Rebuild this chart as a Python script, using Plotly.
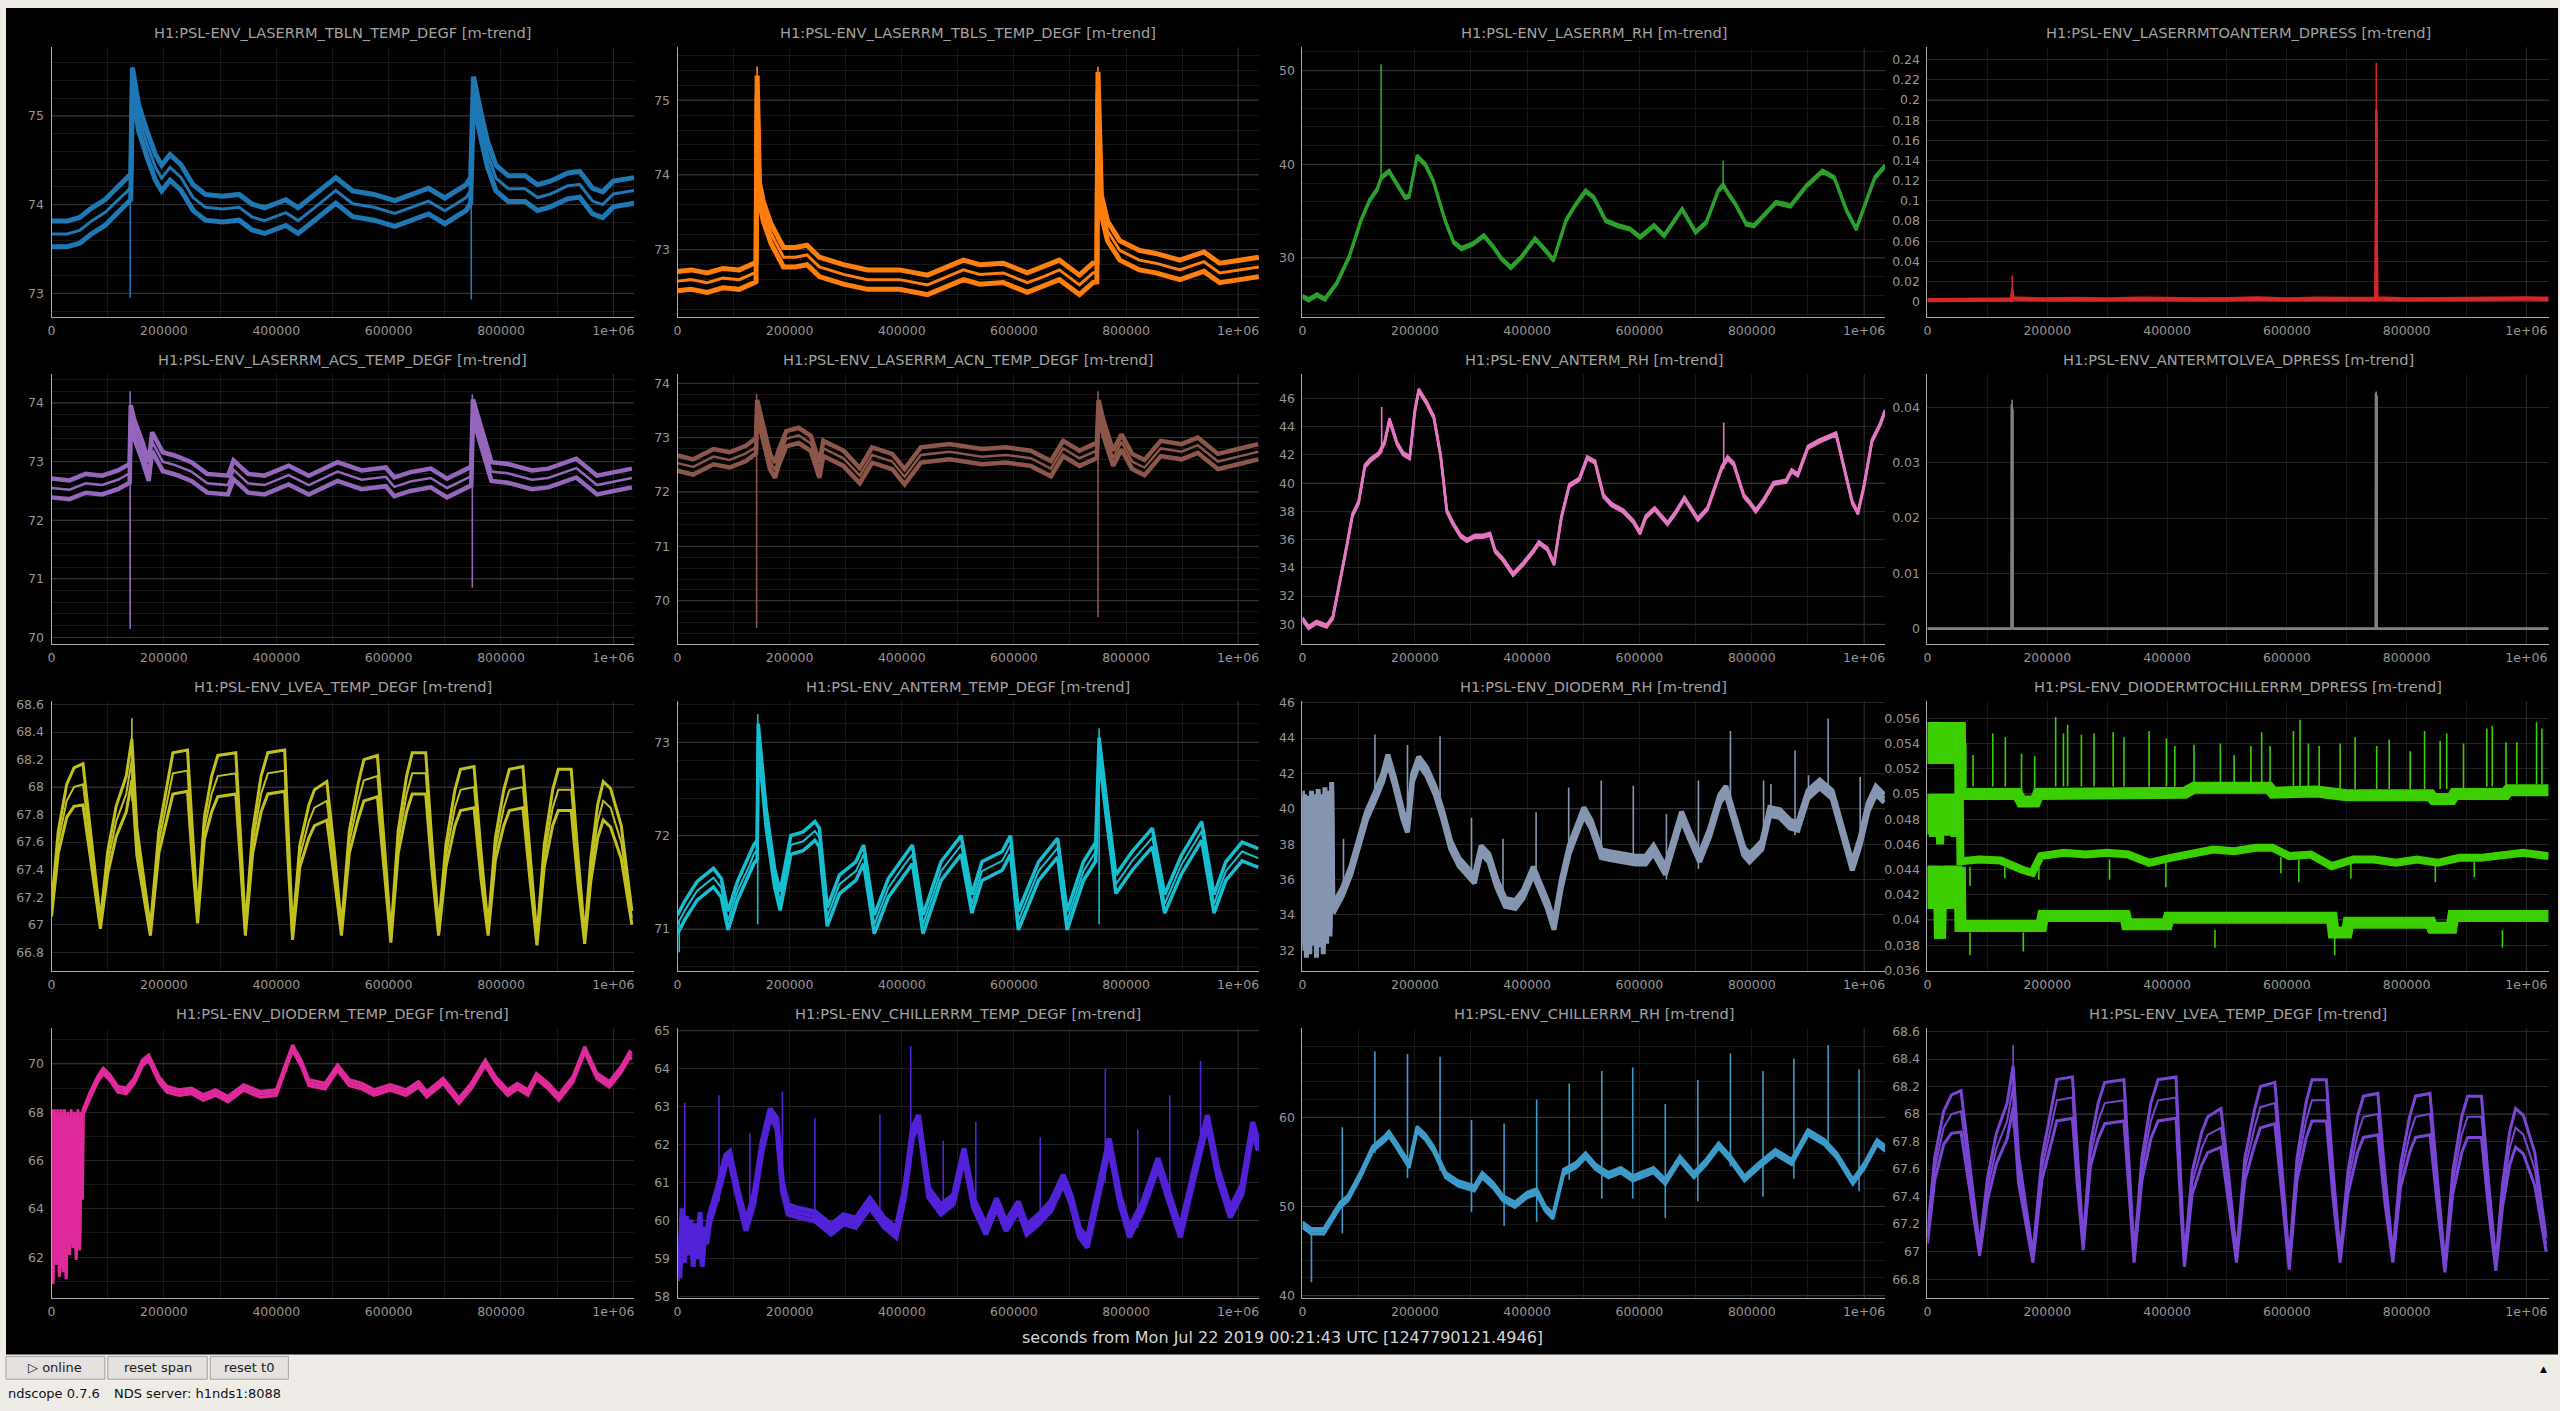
import plotly.graph_objects as go

W, H = 2560, 1411

# ------------------------------------------------------------------ data
TITLES = [
    "H1:PSL-ENV_LASERRM_TBLN_TEMP_DEGF [m-trend]",
    "H1:PSL-ENV_LASERRM_TBLS_TEMP_DEGF [m-trend]",
    "H1:PSL-ENV_LASERRM_RH [m-trend]",
    "H1:PSL-ENV_LASERRMTOANTERM_DPRESS [m-trend]",
    "H1:PSL-ENV_LASERRM_ACS_TEMP_DEGF [m-trend]",
    "H1:PSL-ENV_LASERRM_ACN_TEMP_DEGF [m-trend]",
    "H1:PSL-ENV_ANTERM_RH [m-trend]",
    "H1:PSL-ENV_ANTERMTOLVEA_DPRESS [m-trend]",
    "H1:PSL-ENV_LVEA_TEMP_DEGF [m-trend]",
    "H1:PSL-ENV_ANTERM_TEMP_DEGF [m-trend]",
    "H1:PSL-ENV_DIODERM_RH [m-trend]",
    "H1:PSL-ENV_DIODERMTOCHILLERRM_DPRESS [m-trend]",
    "H1:PSL-ENV_DIODERM_TEMP_DEGF [m-trend]",
    "H1:PSL-ENV_CHILLERRM_TEMP_DEGF [m-trend]",
    "H1:PSL-ENV_CHILLERRM_RH [m-trend]",
    "H1:PSL-ENV_LVEA_TEMP_DEGF [m-trend]",
]

X_TICKS = [0, 200000, 400000, 600000, 800000, 1000000]
X_TICKTEXT = ["0", "200000", "400000", "600000", "800000", "1e+06"]
X_LABEL = "seconds from Mon Jul 22 2019 00:21:43 UTC [1247790121.4946]"

# (time [s], mean) ; min/max drawn at mean -/+ spread
P1_TRACE = [(0, 73.67), (28000, 73.67), (50000, 73.71), (72000, 73.82), (95000, 73.91), (117000, 74.04),
            (136000, 74.16), (141000, 74.2), (144000, 75.4), (155000, 74.98), (170000, 74.68), (185000, 74.42),
            (196000, 74.3), (211000, 74.42), (230000, 74.31), (252000, 74.08), (274000, 73.97), (304000, 73.95),
            (334000, 73.97), (357000, 73.86), (379000, 73.82), (417000, 73.91), (439000, 73.82), (469000, 73.97),
            (506000, 74.16), (536000, 74.01), (574000, 73.97), (611000, 73.9), (641000, 73.97), (671000, 74.04),
            (700000, 73.93), (738000, 74.08), (746000, 74.16), (751000, 75.3), (764000, 74.9), (776000, 74.57),
            (791000, 74.3), (813000, 74.18), (843000, 74.18), (865000, 74.08), (888000, 74.12), (918000, 74.21),
            (940000, 74.23), (963000, 74.04), (981000, 74.0), (1000000, 74.12), (1037000, 74.16)]
P1_SPREAD = 0.145
P1_SPIKES = [(140000, 72.95, 74.35), (747000, 72.93, 74.3)]

P2_TRACE = [(0, 72.58), (24000, 72.6), (53000, 72.56), (81000, 72.62), (110000, 72.6), (136000, 72.69),
            (140000, 72.7), (142000, 75.2), (146000, 73.77), (153000, 73.51), (167000, 73.21), (189000, 72.9),
            (210000, 72.9), (231000, 72.93), (253000, 72.77), (296000, 72.67), (339000, 72.6), (396000, 72.6),
            (446000, 72.53), (481000, 72.64), (510000, 72.73), (539000, 72.67), (581000, 72.69), (624000, 72.56),
            (653000, 72.64), (681000, 72.73), (717000, 72.53), (741000, 72.69), (748000, 72.7), (750000, 75.25),
            (756000, 73.6), (767000, 73.25), (789000, 72.99), (824000, 72.86), (853000, 72.82), (896000, 72.73),
            (939000, 72.84), (967000, 72.69), (1003000, 72.73), (1037000, 72.77)]
P2_SPREAD = 0.13
P2_SPIKES = [(142000, 75.0, 75.45), (750000, 75.0, 75.45)]

P3_TRACE = [(0, 25.88), (11000, 25.53), (26000, 26.06), (40000, 25.6), (61000, 27.29), (83000, 30.1),
            (104000, 33.98), (119000, 36.09), (133000, 37.32), (140000, 38.56), (154000, 39.26), (169000, 37.85),
            (183000, 36.44), (190000, 36.6), (204000, 40.85), (219000, 39.96), (233000, 38.2), (254000, 33.98),
            (269000, 31.69), (283000, 30.99), (304000, 31.51), (323000, 32.39), (340000, 31.16), (354000, 29.93),
            (371000, 28.98), (390000, 30.1), (414000, 32.04), (433000, 30.8), (447000, 29.75), (469000, 33.98),
            (483000, 35.39), (504000, 37.15), (519000, 36.44), (540000, 33.98), (561000, 33.45), (583000, 33.1),
            (601000, 32.22), (626000, 33.45), (644000, 32.39), (676000, 35.21), (700000, 32.75), (719000, 33.8),
            (740000, 37.15), (749000, 37.8), (757000, 36.97), (771000, 35.74), (790000, 33.63), (804000, 33.45),
            (826000, 34.86), (843000, 35.92), (869000, 35.56), (897000, 37.68), (926000, 39.26), (947000, 38.56),
            (969000, 35.04), (986000, 33.1), (1004000, 36.09), (1019000, 38.56), (1037000, 39.79)]
P3_SPREAD = 0.15
P3_SPIKES = [(140000, 38.5, 50.7), (749000, 37.5, 40.4)]

P4_TRACE = [(0, 0.0015), (50000, 0.0018), (100000, 0.0016), (139500, 0.002), (141500, 0.012), (143500, 0.003),
            (200000, 0.002), (250000, 0.0025), (300000, 0.0022), (350000, 0.0028), (400000, 0.0026), (450000, 0.002),
            (500000, 0.0024), (550000, 0.003), (600000, 0.0022), (650000, 0.0028), (700000, 0.0025), (748000, 0.0026),
            (749500, 0.19), (751000, 0.003), (800000, 0.0022), (850000, 0.0025), (900000, 0.0027), (950000, 0.003),
            (1000000, 0.003), (1037000, 0.0028)]
P4_SPREAD = 0.0012
P4_SPIKES = [(141500, 0.0, 0.026), (749500, 0.0, 0.237)]

P5_TRACE = [(0, 72.55), (32000, 72.52), (61000, 72.63), (90000, 72.6), (118000, 72.69), (133000, 72.77),
            (139000, 72.8), (141000, 73.8), (147000, 73.56), (162000, 73.17), (173000, 72.83), (179000, 73.34),
            (198000, 73.0), (220000, 72.94), (249000, 72.83), (277000, 72.63), (314000, 72.6), (324000, 72.86),
            (350000, 72.63), (379000, 72.6), (422000, 72.77), (458000, 72.6), (509000, 72.83), (552000, 72.69),
            (595000, 72.74), (610000, 72.57), (639000, 72.66), (675000, 72.72), (704000, 72.55), (740000, 72.72),
            (747000, 72.75), (750000, 73.9), (757000, 73.67), (772000, 73.17), (783000, 72.83), (812000, 72.8),
            (855000, 72.69), (884000, 72.72), (934000, 72.89), (971000, 72.6), (1000000, 72.66), (1033000, 72.72)]
P5_SPREAD = 0.16
P5_SPIKES = [(140000, 70.15, 74.2), (749000, 70.85, 74.15)]

P6_TRACE = [(0, 72.53), (28000, 72.46), (64000, 72.65), (93000, 72.59), (122000, 72.71), (136000, 72.8),
            (140000, 72.85), (142000, 73.55), (151000, 73.16), (165000, 72.56), (174000, 72.4), (180000, 72.62),
            (194000, 72.98), (216000, 73.04), (238000, 72.89), (253000, 72.4), (260000, 72.8), (296000, 72.62),
            (325000, 72.3), (347000, 72.68), (383000, 72.56), (405000, 72.28), (434000, 72.68), (485000, 72.74),
            (543000, 72.65), (586000, 72.68), (630000, 72.62), (666000, 72.43), (688000, 72.8), (717000, 72.62),
            (743000, 72.74), (748000, 72.76), (751000, 73.55), (760000, 73.16), (777000, 72.62), (792000, 72.92),
            (811000, 72.56), (833000, 72.45), (862000, 72.8), (899000, 72.74), (928000, 72.86), (964000, 72.56),
            (1000000, 72.65), (1036000, 72.74)]
P6_SPREAD = 0.14
P6_SPIKES = [(141000, 69.5, 73.8), (750000, 69.7, 73.85)]

P7_TRACE = [(0, 30.38), (11000, 29.78), (25000, 30.14), (43000, 29.87), (54000, 30.47), (64000, 32.64),
            (75000, 34.74), (89000, 37.74), (100000, 38.64), (111000, 41.2), (121000, 41.65), (136000, 42.1),
            (146000, 42.85), (155000, 44.5), (168000, 42.85), (179000, 42.1), (191000, 41.8), (200000, 45.1),
            (207000, 46.6), (221000, 45.7), (234000, 44.65), (246000, 41.95), (257000, 38.04), (268000, 37.14),
            (282000, 36.24), (293000, 35.94), (307000, 36.24), (321000, 36.24), (334000, 36.39), (343000, 35.19),
            (357000, 34.59), (375000, 33.54), (393000, 34.29), (411000, 35.19), (421000, 35.79), (436000, 35.34),
            (448000, 34.29), (461000, 37.59), (475000, 39.84), (493000, 40.29), (507000, 41.8), (521000, 41.5),
            (536000, 39.09), (550000, 38.49), (571000, 38.04), (589000, 37.29), (601000, 36.48), (611000, 37.59),
            (627000, 38.19), (650000, 37.14), (664000, 37.89), (680000, 38.94), (689000, 38.34), (704000, 37.44),
            (721000, 38.19), (736000, 39.84), (746000, 41.05), (757000, 41.8), (768000, 41.35), (786000, 39.09),
            (796000, 38.64), (807000, 38.04), (821000, 38.79), (839000, 39.99), (861000, 40.14), (871000, 40.89),
            (882000, 40.59), (900000, 42.55), (921000, 43.0), (950000, 43.5), (961000, 41.65), (979000, 38.64),
            (989000, 37.89), (1000000, 39.84), (1014000, 43.0), (1029000, 44.2), (1037000, 45.1)]
P7_SPREAD = 0.1
P7_SPIKES = [(141000, 42.1, 45.4), (750000, 41.0, 44.3)]

P8_TRACE = [(0, 0.0), (140000, 0.0), (140300, 0.0405), (142300, 0.0395), (142600, 0.0), (748000, 0.0),
            (748300, 0.0425), (750300, 0.042), (750600, 0.0), (1037000, 0.0)]
P8_SPREAD = 0.0001
P8_SPIKES = [(141300, 0.036, 0.0414), (749300, 0.041, 0.0429)]

# LVEA temperature (same channel in two panels): (time, mean, spread)
LVEA_TRACE = [
    (0, 67.1, 0.04), (12000, 67.6, 0.08), (27000, 67.9, 0.12), (40000, 68.0, 0.14), (56000, 68.02, 0.15),
    (70000, 67.55, 0.1), (87000, 67.0, 0.03),
    (100000, 67.45, 0.08), (115000, 67.75, 0.11), (133000, 67.95, 0.13), (143000, 68.2, 0.15), (152000, 67.6, 0.1),
    (165000, 67.25, 0.06), (176000, 66.95, 0.03),
    (191000, 67.6, 0.08), (208000, 67.95, 0.13), (216000, 68.1, 0.15), (242000, 68.12, 0.15), (250000, 67.6, 0.1),
    (260000, 67.04, 0.03),
    (272000, 67.7, 0.08), (285000, 67.95, 0.13), (296000, 68.08, 0.15), (328000, 68.1, 0.15), (337000, 67.5, 0.1),
    (345000, 66.95, 0.03),
    (358000, 67.6, 0.08), (373000, 67.95, 0.13), (385000, 68.1, 0.15), (415000, 68.12, 0.15), (422000, 67.5, 0.1),
    (429000, 66.92, 0.03),
    (442000, 67.5, 0.08), (458000, 67.75, 0.12), (468000, 67.85, 0.13), (490000, 67.9, 0.14), (503000, 67.45, 0.1),
    (516000, 66.95, 0.03),
    (530000, 67.6, 0.08), (546000, 67.9, 0.13), (556000, 68.05, 0.15), (580000, 68.08, 0.15), (592000, 67.5, 0.1),
    (604000, 66.9, 0.03),
    (617000, 67.6, 0.08), (632000, 67.95, 0.13), (642000, 68.1, 0.15), (666000, 68.1, 0.15), (677000, 67.5, 0.1),
    (689000, 66.95, 0.03),
    (702000, 67.5, 0.08), (718000, 67.85, 0.13), (728000, 67.98, 0.15), (752000, 68.0, 0.15), (764000, 67.45, 0.1),
    (777000, 66.95, 0.03),
    (790000, 67.55, 0.08), (805000, 67.85, 0.13), (815000, 67.98, 0.15), (839000, 68.0, 0.15), (851000, 67.45, 0.1),
    (864000, 66.88, 0.03),
    (877000, 67.5, 0.08), (892000, 67.85, 0.13), (902000, 67.98, 0.15), (925000, 67.98, 0.15), (937000, 67.4, 0.1),
    (949000, 66.89, 0.03),
    (960000, 67.4, 0.08), (972000, 67.75, 0.12), (982000, 67.9, 0.14), (995000, 67.85, 0.14), (1014000, 67.6, 0.12),
    (1033000, 67.05, 0.05)]
LVEA_SPIKES = [(143000, 67.9, 68.5)]

P10_TRACE = [(0, 71.05), (13000, 71.2), (35000, 71.41), (64000, 71.55), (78000, 71.44), (90000, 71.09),
             (107000, 71.41), (129000, 71.69), (136000, 71.8), (142000, 71.85), (144000, 73.1), (158000, 72.19),
             (173000, 71.55), (183000, 71.3), (202000, 71.9), (224000, 71.94), (245000, 72.05), (253000, 71.98),
             (267000, 71.13), (289000, 71.48), (318000, 71.62), (332000, 71.8), (351000, 71.05), (376000, 71.44),
             (405000, 71.69), (419000, 71.8), (438000, 71.05), (470000, 71.62), (506000, 71.9), (525000, 71.27),
             (543000, 71.62), (579000, 71.73), (594000, 71.9), (608000, 71.09), (644000, 71.62), (678000, 71.87),
             (695000, 71.09), (724000, 71.62), (746000, 71.83), (752000, 72.95), (767000, 72.19), (782000, 71.48),
             (811000, 71.73), (847000, 71.98), (869000, 71.27), (899000, 71.69), (935000, 72.05), (957000, 71.27),
             (978000, 71.62), (1007000, 71.83), (1036000, 71.76)]
P10_SPREAD = 0.1
P10_SPIKES = [(3000, 70.75, 71.1), (143000, 71.05, 73.3), (752000, 71.05, 73.15)]

P11_TRACE = [(0, 40.8), (2000, 32.2), (4000, 40.6), (7000, 31.8), (10000, 40.5), (13000, 32.0), (16000, 40.8),
             (19000, 32.5), (22000, 40.6), (25000, 31.8), (28000, 40.9), (31000, 32.4), (34000, 40.6), (37000, 32.0),
             (40000, 41.0), (43000, 32.6), (46000, 40.8), (49000, 33.0), (52000, 41.3), (54000, 34.6),
             (57000, 34.47), (71000, 35.3), (86000, 36.5), (100000, 38.17), (114000, 39.61), (129000, 40.69),
             (143000, 41.76), (152000, 42.84), (164000, 41.53), (179000, 39.61), (187000, 38.89), (196000, 41.76),
             (207000, 42.72), (221000, 42.12), (236000, 41.05), (250000, 39.61), (264000, 37.94), (279000, 36.98),
             (293000, 36.5), (306000, 36.02), (318000, 37.7), (332000, 37.22), (346000, 35.78), (361000, 34.71),
             (379000, 34.59), (393000, 35.18), (411000, 36.5), (421000, 35.78), (436000, 34.59), (448000, 33.39),
             (461000, 35.78), (475000, 37.7), (489000, 38.89), (501000, 39.85), (514000, 39.13), (532000, 37.46),
             (550000, 37.34), (571000, 37.22), (593000, 37.1), (611000, 37.1), (625000, 37.7), (646000, 36.5),
             (661000, 38.17), (675000, 39.61), (689000, 38.53), (707000, 37.22), (725000, 38.65), (743000, 40.57),
             (754000, 41.05), (768000, 39.61), (786000, 37.58), (796000, 37.22), (818000, 37.94), (832000, 39.85),
             (850000, 39.73), (868000, 39.13), (882000, 39.01), (900000, 40.81), (921000, 41.41), (943000, 40.81),
             (961000, 38.65), (979000, 36.74), (993000, 38.17), (1007000, 40.09), (1021000, 41.05), (1036000, 40.57)]
P11_SPREAD = 0.22
P11_SPIKES = [(73000, 35.3, 38.3), (129000, 40.7, 44.2), (187000, 38.9, 43.6), (245000, 40.0, 44.1),
              (301000, 36.2, 39.5), (357000, 34.8, 38.3), (416000, 36.2, 39.8), (474000, 37.6, 41.2),
              (532000, 37.5, 41.6), (589000, 37.1, 41.3), (648000, 36.0, 39.7), (705000, 36.6, 41.6),
              (762000, 40.0, 44.4), (821000, 38.0, 41.6), (834000, 39.5, 41.4), (877000, 38.5, 43.3),
              (901000, 40.5, 41.9), (936000, 41.0, 45.1), (993000, 38.0, 41.8)]

# differential pressure, diode room -> chiller room: separate max / mean / min traces
P12_MAX = [(0, 0.0556), (3000, 0.0525), (6000, 0.0557), (9000, 0.0524), (12000, 0.0556), (15000, 0.0527),
           (18000, 0.0557), (21000, 0.0524), (24000, 0.0556), (27000, 0.0526), (30000, 0.0557), (33000, 0.0525),
           (36000, 0.0556), (39000, 0.0524), (42000, 0.0557), (45000, 0.0526), (48000, 0.0556), (51000, 0.0525),
           (54000, 0.0557), (55000, 0.0500), (150000, 0.0500), (157000, 0.0494), (180000, 0.0494),
           (185000, 0.0500), (430000, 0.0501), (445000, 0.0505), (570000, 0.0505), (577000, 0.0501),
           (650000, 0.0502), (700000, 0.0499), (840000, 0.0499), (845000, 0.0496), (875000, 0.0496),
           (880000, 0.0500), (965000, 0.0500), (970000, 0.0503), (1037000, 0.0503)]
P12_MEAN = [(0, 0.0500), (3000, 0.0468), (6000, 0.0499), (9000, 0.0466), (12000, 0.0500), (15000, 0.0469),
            (18000, 0.0499), (21000, 0.0460), (24000, 0.0500), (27000, 0.0468), (30000, 0.0499), (33000, 0.0467),
            (36000, 0.0500), (39000, 0.0469), (42000, 0.0499), (45000, 0.0466), (48000, 0.0500), (51000, 0.0468),
            (54000, 0.0499), (55000, 0.04467), (87000, 0.0448), (122000, 0.04472), (157000, 0.04401),
            (175000, 0.04375), (189000, 0.04507), (228000, 0.04533), (264000, 0.0452), (299000, 0.04533),
            (335000, 0.0452), (370000, 0.04454), (406000, 0.04493), (441000, 0.04533), (477000, 0.04559),
            (512000, 0.04546), (548000, 0.04573), (576000, 0.04573), (604000, 0.04507), (640000, 0.0452),
            (675000, 0.04427), (711000, 0.0448), (746000, 0.0448), (782000, 0.04454), (817000, 0.0448),
            (852000, 0.04454), (888000, 0.04493), (923000, 0.04493), (959000, 0.0452), (994000, 0.04533),
            (1037000, 0.04507)]
P12_MIN = [(0, 0.0443), (3000, 0.0410), (6000, 0.0442), (9000, 0.0409), (12000, 0.0443), (15000, 0.0411),
           (18000, 0.0442), (21000, 0.0385), (24000, 0.0443), (27000, 0.0410), (30000, 0.0442), (33000, 0.0409),
           (36000, 0.0443), (39000, 0.0411), (42000, 0.0442), (45000, 0.0410), (48000, 0.0443), (51000, 0.0409),
           (54000, 0.0442), (55000, 0.03953), (190000, 0.03953), (193000, 0.04032), (330000, 0.04032),
           (333000, 0.03966), (400000, 0.03966), (403000, 0.04018), (675000, 0.04018), (678000, 0.0390),
           (700000, 0.0390), (703000, 0.03979), (840000, 0.03979), (843000, 0.03939), (875000, 0.03939),
           (878000, 0.04032), (1037000, 0.04032)]
P12_SPIKES = [(64000, 0.0506, 0.0540), (76000, 0.0506, 0.0531), (109000, 0.0506, 0.0548), (130000, 0.0506, 0.0545),
              (157000, 0.0500, 0.0532), (179000, 0.0500, 0.0530), (214000, 0.0506, 0.0561), (227000, 0.0506, 0.0548),
              (234000, 0.0506, 0.0555), (257000, 0.0506, 0.0547), (278000, 0.0506, 0.0548), (310000, 0.0506, 0.0549),
              (328000, 0.0506, 0.0545), (370000, 0.0506, 0.0550), (399000, 0.0506, 0.0544), (413000, 0.0506, 0.0538),
              (445000, 0.0506, 0.0539), (489000, 0.0508, 0.0540), (512000, 0.0508, 0.0531), (540000, 0.0508, 0.0538),
              (558000, 0.0508, 0.0549), (572000, 0.0508, 0.0538), (611000, 0.0506, 0.0550), (622000, 0.0506, 0.0559),
              (636000, 0.0506, 0.0540), (654000, 0.0506, 0.0538), (689000, 0.0504, 0.0540), (714000, 0.0504, 0.0545),
              (750000, 0.0504, 0.0538), (771000, 0.0504, 0.0543), (806000, 0.0504, 0.0534), (830000, 0.0504, 0.0550),
              (856000, 0.0504, 0.0542), (867000, 0.0504, 0.0548), (895000, 0.0504, 0.0540), (934000, 0.0506, 0.0552),
              (943000, 0.0506, 0.0554), (966000, 0.0506, 0.0541), (984000, 0.0508, 0.0541), (1017000, 0.0508, 0.0557),
              (1026000, 0.0508, 0.0552),
              (71000, 0.0427, 0.0442), (129000, 0.0433, 0.0442), (186000, 0.0432, 0.0442), (304000, 0.0432, 0.0448),
              (398000, 0.0426, 0.0446), (590000, 0.0437, 0.0450), (620000, 0.0430, 0.0448), (707000, 0.0433, 0.0445),
              (848000, 0.0430, 0.0443), (913000, 0.0434, 0.0446),
              (71000, 0.0372, 0.0390), (160000, 0.0375, 0.0390), (480000, 0.0378, 0.0392), (680000, 0.0372, 0.0388),
              (960000, 0.0378, 0.0392)]

P13_TRACE = [(0, 68.0), (2500, 61.0), (5000, 68.0), (8000, 61.8), (11000, 68.0), (14000, 61.3), (17000, 68.0),
             (20000, 61.5), (23000, 68.0), (26000, 61.2), (29000, 67.9), (32000, 62.2), (35000, 68.0), (38000, 62.5),
             (41000, 67.9), (44000, 62.0), (47000, 68.0), (50000, 62.4), (53000, 67.9), (55000, 64.5),
             (56000, 67.99), (68000, 68.67), (82000, 69.36), (92000, 69.7), (104000, 69.43), (118000, 68.95),
             (133000, 68.88), (147000, 69.29), (162000, 70.04), (173000, 70.25), (191000, 69.36), (205000, 68.95),
             (227000, 68.81), (249000, 68.88), (270000, 68.61), (292000, 68.81), (314000, 68.54), (342000, 69.02),
             (371000, 68.74), (400000, 68.81), (415000, 69.77), (429000, 70.66), (444000, 70.04), (458000, 69.22),
             (487000, 69.08), (509000, 69.84), (530000, 69.22), (552000, 69.08), (574000, 68.81), (603000, 69.02),
             (631000, 68.81), (653000, 69.15), (668000, 68.74), (697000, 69.29), (725000, 68.47), (747000, 69.08),
             (772000, 70.04), (790000, 69.36), (812000, 68.81), (829000, 69.08), (848000, 68.81), (863000, 69.49),
             (884000, 69.08), (903000, 68.61), (928000, 69.36), (949000, 70.59), (971000, 69.49), (993000, 69.15),
             (1014000, 69.77), (1029000, 70.38), (1033000, 70.31)]
P13_SPREAD = 0.12
P13_SPIKES = []

P14_TRACE = [(0, 59.3), (4000, 58.6), (8000, 60.2), (12000, 59.0), (16000, 60.0), (20000, 59.2), (24000, 59.9),
             (28000, 58.9), (32000, 59.8), (36000, 59.1), (40000, 60.1), (44000, 58.9), (48000, 59.7), (52000, 59.5),
             (57000, 60.03), (71000, 60.73), (86000, 61.6), (93000, 61.69), (107000, 60.73), (122000, 59.85),
             (136000, 60.55), (151000, 61.96), (165000, 62.83), (177000, 62.57), (187000, 60.9), (197000, 60.29),
             (216000, 60.2), (245000, 60.11), (274000, 59.76), (296000, 60.03), (318000, 59.94), (343000, 60.46),
             (369000, 59.94), (390000, 59.68), (405000, 60.73), (419000, 62.31), (430000, 62.66), (448000, 60.73),
             (470000, 60.29), (492000, 60.55), (511000, 61.78), (528000, 60.46), (550000, 59.76), (569000, 60.46),
             (586000, 59.85), (608000, 60.38), (623000, 59.76), (644000, 60.03), (666000, 60.38), (688000, 61.08),
             (702000, 60.55), (717000, 59.68), (731000, 59.41), (753000, 60.9), (770000, 62.04), (789000, 60.55),
             (806000, 59.68), (830000, 60.38), (857000, 61.52), (878000, 60.55), (897000, 59.68), (919000, 61.08),
             (945000, 62.66), (964000, 61.25), (986000, 60.2), (1007000, 60.82), (1026000, 62.48), (1036000, 61.96)]
P14_SPREAD = 0.12
P14_SPIKES = [(3000, 58.4, 59.3), (13000, 59.5, 63.1), (74000, 60.5, 63.3), (129000, 60.0, 62.3),
              (187000, 60.9, 63.4), (245000, 60.1, 62.7), (361000, 60.0, 62.8), (416000, 61.5, 64.6),
              (474000, 60.3, 62.1), (532000, 60.4, 62.6), (647000, 60.0, 62.2), (763000, 61.0, 64.0),
              (821000, 59.8, 62.4), (878000, 60.6, 63.3), (933000, 61.8, 64.2)]

P15_TRACE = [(0, 47.96), (16000, 47.22), (38000, 47.22), (52000, 48.7), (67000, 50.19), (81000, 50.93),
             (103000, 53.52), (125000, 56.48), (146000, 57.59), (154000, 58.15), (168000, 56.85), (190000, 54.63),
             (204000, 58.7), (219000, 57.78), (233000, 56.48), (255000, 53.52), (277000, 52.59), (306000, 52.04),
             (320000, 53.52), (339000, 52.41), (357000, 50.93), (378000, 50.19), (400000, 51.3), (417000, 51.67),
             (432000, 49.81), (446000, 48.89), (465000, 53.89), (487000, 54.63), (504000, 55.74), (522000, 54.44),
             (545000, 53.52), (567000, 54.07), (588000, 53.15), (625000, 54.07), (646000, 52.78), (672000, 55.37),
             (697000, 53.52), (719000, 55.0), (741000, 56.85), (762000, 55.37), (787000, 53.15), (813000, 54.63),
             (842000, 56.11), (871000, 55.0), (900000, 58.33), (929000, 57.22), (951000, 55.74), (980000, 52.78),
             (1001000, 54.63), (1023000, 57.22), (1038000, 56.48)]
P15_SPREAD = 0.3
P15_SPIKES = [(16000, 41.5, 47.5), (71000, 47.0, 58.9), (129000, 56.0, 67.4), (187000, 53.2, 67.1),
              (245000, 54.0, 66.8), (301000, 49.4, 59.7), (359000, 47.8, 59.3), (417000, 48.3, 62.0),
              (475000, 53.0, 63.8), (533000, 50.9, 65.2), (588000, 50.9, 65.6), (646000, 48.7, 61.5),
              (704000, 50.6, 64.2), (762000, 54.5, 67.2), (820000, 51.1, 65.2), (875000, 53.1, 66.6),
              (936000, 56.5, 68.1), (991000, 51.7, 65.4)]

# y tick labels per panel
Y_TICKS = [
    [73, 74, 75],
    [73, 74, 75],
    [30, 40, 50],
    [0, 0.02, 0.04, 0.06, 0.08, 0.1, 0.12, 0.14, 0.16, 0.18, 0.2, 0.22, 0.24],
    [70, 71, 72, 73, 74],
    [70, 71, 72, 73, 74],
    [30, 32, 34, 36, 38, 40, 42, 44, 46],
    [0, 0.01, 0.02, 0.03, 0.04],
    [66.8, 67, 67.2, 67.4, 67.6, 67.8, 68, 68.2, 68.4, 68.6],
    [71, 72, 73],
    [32, 34, 36, 38, 40, 42, 44, 46],
    [0.036, 0.038, 0.04, 0.042, 0.044, 0.046, 0.048, 0.05, 0.052, 0.054, 0.056],
    [62, 64, 66, 68, 70],
    [58, 59, 60, 61, 62, 63, 64, 65],
    [40, 50, 60],
    [66.8, 67, 67.2, 67.4, 67.6, 67.8, 68, 68.2, 68.4, 68.6],
]
Y_MAJOR = [
    [73, 74, 75], [73, 74, 75], [30, 40, 50], [0, 0.2], [70, 71, 72, 73, 74], [70, 71, 72, 73, 74],
    [30, 40], [0], [68], [71, 72, 73], [40], [0.04, 0.05], [70], [60, 65], [40, 50, 60], [68],
]

# ------------------------------------------------------------------ styling / layout
COLORS = ["#1f77b4", "#ff7f0e", "#2ca02c", "#d62728", "#9467bd", "#8c564b", "#e377c2", "#7f7f7f",
          "#c2c020", "#17becf", "#8796b0", "#3ccf00", "#e02a9c", "#5222d8", "#3d9bc9", "#7846d2"]
YRANGES = [
    [72.732, 75.774], [72.099, 75.706], [23.68, 52.5], [-0.0154, 0.2524],
    [69.887, 74.49], [69.204, 74.164], [28.6, 47.72], [-0.0028, 0.046],
    [66.663, 68.624], [70.55, 73.44], [30.83, 46.08], [0.03595, 0.05736],
    [60.31, 71.475], [57.956, 65.068], [39.74, 70.0], [66.663, 68.624],
]
Y_MINOR = [0.2, 0.2, 2, None, 0.2, 0.2, None, None, None, 0.2, None, None, 1, None, 2, None]
BAND_W = [5, 5, 2.5, 2, 4.5, 4.5, 2.5, 1.5, 3, 3.5, 5, 12, 3, 5, 3, 3]
MEAN_W = [3, 3, 2.5, 2, 2.5, 2.5, 2.5, 1.5, 2, 2, 4, 8, 3, 4, 3, 2]

COLS_PX = [(47.6, 631.3), (674.6, 1257.0), (1300.5, 1884.0), (1926.5, 2548.7)]
ROWS_PX = [(41.7, 314.0), (371.7, 644.0), (701.7, 974.0), (1031.7, 1304.0)]
X_MAX = 1037300

BG_LIGHT = "#efebe7"
TICK_COLOR = "#969696"
TITLE_COLOR = "#a2a2a2"
AXIS_LINE = "#a8a8a8"
GRID_MINOR = "#171717"
GRID_LABEL = "#222222"
GRID_MAJOR = "#363636"
FONT = "DejaVu Sans"

panels = [
    (P1_TRACE, P1_SPREAD, P1_SPIKES), (P2_TRACE, P2_SPREAD, P2_SPIKES), (P3_TRACE, P3_SPREAD, P3_SPIKES),
    (P4_TRACE, P4_SPREAD, P4_SPIKES), (P5_TRACE, P5_SPREAD, P5_SPIKES), (P6_TRACE, P6_SPREAD, P6_SPIKES),
    (P7_TRACE, P7_SPREAD, P7_SPIKES), (P8_TRACE, P8_SPREAD, P8_SPIKES), (LVEA_TRACE, None, LVEA_SPIKES),
    (P10_TRACE, P10_SPREAD, P10_SPIKES), (P11_TRACE, P11_SPREAD, P11_SPIKES), ("P12", None, P12_SPIKES),
    (P13_TRACE, P13_SPREAD, P13_SPIKES), (P14_TRACE, P14_SPREAD, P14_SPIKES), (P15_TRACE, P15_SPREAD, P15_SPIKES),
    (LVEA_TRACE, None, LVEA_SPIKES),
]


def fmt(v):
    return ("%.6f" % v).rstrip("0").rstrip(".")


def px_x(v):
    return v / W


def px_y(v):
    return 1 - v / H


fig = go.Figure()
layout = dict(
    width=W, height=H, autosize=False,
    margin=dict(l=0, r=0, t=0, b=0, pad=0),
    paper_bgcolor=BG_LIGHT, plot_bgcolor="#000000",
    showlegend=False, font=dict(family=FONT, size=12, color=TICK_COLOR),
)
shapes = [dict(type="rect", xref="paper", yref="paper", x0=px_x(2), x1=px_x(2558), y0=px_y(1361), y1=px_y(2),
               fillcolor="#000000", line=dict(width=0), layer="below")]
annotations = []

for i, (data, spread, spikes) in enumerate(panels):
    n = i + 1
    r, c = divmod(i, 4)
    xa = "x" if n == 1 else f"x{n}"
    ya = "y" if n == 1 else f"y{n}"
    color = COLORS[i]

    if data == "P12":
        hx, hy = zip(*P12_MAX)
        mx, my = zip(*P12_MEAN)
        lx, ly = zip(*P12_MIN)
    else:
        mx = [p[0] for p in data]
        my = [p[1] for p in data]
        ss = [p[2] for p in data] if spread is None else [spread] * len(data)
        hx, lx = mx, mx
        hy = [m + s for m, s in zip(my, ss)]
        ly = [m - s for m, s in zip(my, ss)]

    for tx, ty, w in ((lx, ly, BAND_W[i]), (hx, hy, BAND_W[i])):
        fig.add_trace(go.Scatter(x=list(tx), y=list(ty), mode="lines", xaxis=xa, yaxis=ya,
                                 line=dict(color=color, width=w), hoverinfo="skip"))
    if spikes:
        sx, sy = [], []
        for (t, lo, hi) in spikes:
            sx += [t, t, None]
            sy += [lo, hi, None]
        fig.add_trace(go.Scatter(x=sx, y=sy, mode="lines", xaxis=xa, yaxis=ya,
                                 line=dict(color=color, width=1.6), hoverinfo="skip"))
    fig.add_trace(go.Scatter(x=list(mx), y=list(my), mode="lines", xaxis=xa, yaxis=ya,
                             line=dict(color=color, width=MEAN_W[i]), hoverinfo="skip"))

    x0, x1 = COLS_PX[c]
    y0, y1 = ROWS_PX[r]
    xkey = "xaxis" if n == 1 else f"xaxis{n}"
    ykey = "yaxis" if n == 1 else f"yaxis{n}"
    layout[xkey] = dict(
        domain=[px_x(x0), px_x(x1)], anchor=ya, range=[0, X_MAX],
        tickmode="array", tickvals=X_TICKS, ticktext=X_TICKTEXT,
        showgrid=True, gridcolor=GRID_MINOR, gridwidth=1,
        minor=dict(tickmode="linear", tick0=0, dtick=100000, showgrid=True, gridcolor=GRID_MINOR, ticks=""),
        showline=True, linecolor=AXIS_LINE, linewidth=1, zeroline=False, ticks="",
        tickfont=dict(family=FONT, size=12.5, color=TICK_COLOR), ticklabelstandoff=2,
    )
    ycfg = dict(
        domain=[px_y(y1), px_y(y0)], anchor=xa, range=YRANGES[i],
        tickmode="array", tickvals=Y_TICKS[i], ticktext=[fmt(v) for v in Y_TICKS[i]],
        showgrid=True, gridcolor=GRID_LABEL, gridwidth=1,
        showline=True, linecolor=AXIS_LINE, linewidth=1, zeroline=False, ticks="",
        tickfont=dict(family=FONT, size=12.5, color=TICK_COLOR), ticklabelstandoff=4,
    )
    if Y_MINOR[i]:
        ycfg["minor"] = dict(tickmode="linear", tick0=0, dtick=Y_MINOR[i], showgrid=True,
                             gridcolor=GRID_MINOR, ticks="")
    layout[ykey] = ycfg

    # brighter major grid lines (drawn between grid and traces of this subplot)
    for v in Y_MAJOR[i]:
        shapes.append(dict(type="line", xref=xa, yref=ya, x0=0, x1=X_MAX, y0=v, y1=v,
                           line=dict(color=GRID_MAJOR, width=1), layer="between"))
    shapes.append(dict(type="line", xref=xa, yref=ya, x0=1000000, x1=1000000,
                       y0=YRANGES[i][0], y1=YRANGES[i][1],
                       line=dict(color="#2c2c2c", width=1), layer="between"))

    annotations.append(dict(text=TITLES[i], xref="paper", yref="paper",
                            x=px_x((x0 + x1) / 2), y=px_y(26.7 + 330 * r),
                            xanchor="center", yanchor="middle", showarrow=False,
                            font=dict(family=FONT, size=14.6, color=TITLE_COLOR)))

# bottom axis caption
annotations.append(dict(text=X_LABEL, xref="paper", yref="paper", x=0.5, y=px_y(1344),
                        xanchor="center", yanchor="middle", showarrow=False,
                        font=dict(family=FONT, size=16, color="#d4d4d4")))

# status bar buttons
BUTTONS = [("\u25b7 online", 2, 101), ("reset span", 104, 203.6), ("reset t0", 206.7, 284.8)]
for label, bx0, bx1 in BUTTONS:
    shapes.append(dict(type="rect", xref="paper", yref="paper", x0=px_x(bx0), x1=px_x(bx1),
                       y0=px_y(1386), y1=px_y(1363), fillcolor="#e4e1de",
                       line=dict(color="#a6a29e", width=1), layer="above"))
    annotations.append(dict(text=label, xref="paper", yref="paper", x=px_x((bx0 + bx1) / 2), y=px_y(1374.5),
                            xanchor="center", yanchor="middle", showarrow=False,
                            font=dict(family=FONT, size=13, color="#202020")))
annotations.append(dict(text="ndscope 0.7.6", xref="paper", yref="paper", x=px_x(2), y=px_y(1400),
                        xanchor="left", yanchor="middle", showarrow=False,
                        font=dict(family=FONT, size=13, color="#101010")))
annotations.append(dict(text="NDS server: h1nds1:8088", xref="paper", yref="paper", x=px_x(108), y=px_y(1400),
                        xanchor="left", yanchor="middle", showarrow=False,
                        font=dict(family=FONT, size=13, color="#101010")))
annotations.append(dict(text="\u25b2", xref="paper", yref="paper", x=px_x(2543), y=px_y(1376),
                        xanchor="center", yanchor="middle", showarrow=False,
                        font=dict(family=FONT, size=9, color="#000000")))

layout["shapes"] = shapes
layout["annotations"] = annotations
fig.update_layout(**layout)
fig.write_html("out.html", config={"displayModeBar": False},
               post_script="document.body.style.margin='0';document.body.style.overflow='hidden';")
